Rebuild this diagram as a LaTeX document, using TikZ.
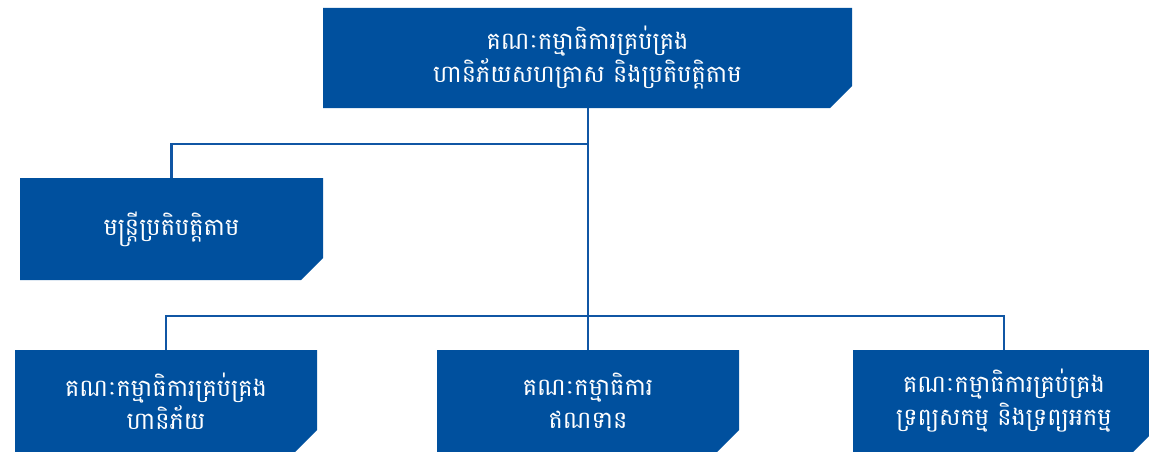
\documentclass[tikz,border=0pt]{standalone}
\usepackage{fontspec}
\newfontfamily\km[Script=Khmer]{Battambang}
\definecolor{boxblue}{RGB}{0,80,158}
\definecolor{lineblue}{RGB}{16,86,164}
\tikzset{
  orgbox/.style={rectangle, inner sep=0pt, minimum width=302pt, minimum height=102pt,
    text=white, align=center, font=\km\fontsize{24}{33}\selectfont,
    path picture={\fill[boxblue] (path picture bounding box.north west)
      -- (path picture bounding box.north east)
      -- ([yshift=22pt]path picture bounding box.south east)
      -- ([xshift=-22pt]path picture bounding box.south east)
      -- (path picture bounding box.south west) -- cycle;}},
  link/.style={draw=lineblue, line width=2.4pt}
}
\begin{document}
\begin{tikzpicture}[x=1pt,y=-1pt]
\useasboundingbox (0,0) rectangle (1149,452);
\clip (0,0) rectangle (1149,452);
\node[orgbox, minimum width=529pt, minimum height=100pt] (top) at (587.5,58) {គណៈកម្មាធិការគ្រប់គ្រង\\ហានិភ័យសហគ្រាស និងប្រតិបត្តិតាម};
\node[orgbox, minimum width=303pt] (left) at (171.5,229) {មន្ត្រីប្រតិបត្តិតាម};
\node[orgbox] (b1) at (166,401) {គណៈកម្មាធិការគ្រប់គ្រង\\ហានិភ័យ};
\node[orgbox] (b2) at (588,401) {គណៈកម្មាធិការ\\ឥណទាន};
\node[orgbox] (b3) at (1004,401) {គណៈកម្មាធិការគ្រប់គ្រង\\ទ្រព្យសកម្ម និងទ្រព្យអកម្ម};
\coordinate (j1) at (588,144);
\coordinate (j2) at (588,316);
\draw[link] (top.south -| j1) -- (j2);
\draw[link] (j1) -| (left.north);
\draw[link] (j2) -| (b1.north);
\draw[link] (j2) -| (b3.north);
\draw[link] (j2) -- (b2.north);
\end{tikzpicture}
\end{document}
